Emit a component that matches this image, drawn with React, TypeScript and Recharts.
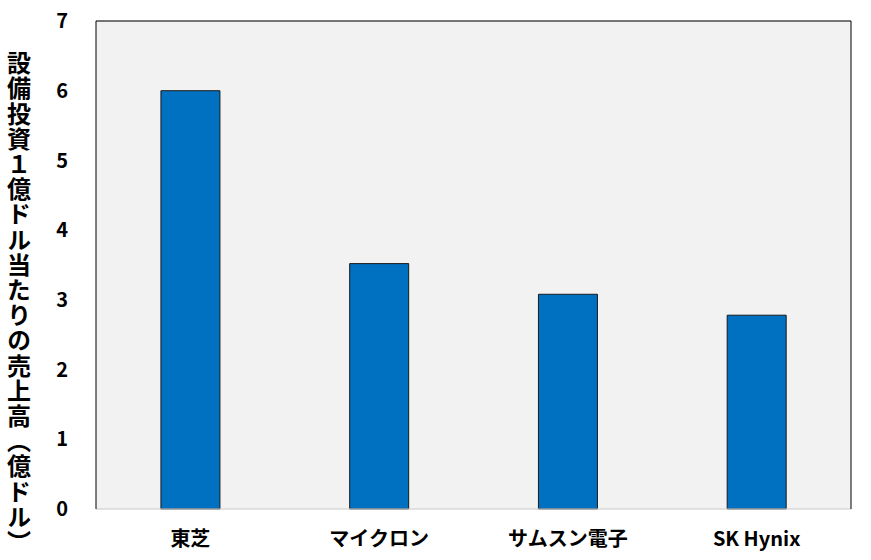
import React from 'react';
import { BarChart, Bar, XAxis, YAxis, CartesianGrid } from 'recharts';

const categories = ['東芝', 'マイクロン', 'サムスン電子', 'SK Hynix'];
const values = [6.0, 3.52, 3.08, 2.78];
const yTicks = [0, 1, 2, 3, 4, 5, 6, 7];
const yLabel = '設備投資１億ドル当たりの売上高（億ドル）';

const data = categories.map((name, i) => ({ name, value: values[i] }));

const FONT = '"Noto Sans CJK JP", "Noto Sans", sans-serif';

const YLabel = () => (
  <text
    x={19}
    y={303}
    textAnchor="middle"
    fontFamily={FONT}
    fontWeight={700}
    fontSize={24}
    fill="#000"
    letterSpacing={1.2}
    style={{ writingMode: 'vertical-rl' as any }}
  >
    {yLabel}
  </text>
);

export default function App() {
  return (
    <div style={{ position: 'absolute', left: 0, top: 0, width: 871, height: 560, background: '#fff' }}>
      <BarChart
        width={871}
        height={560}
        data={data}
        margin={{ top: 0, right: 0, left: 0, bottom: 0 }}
        barCategoryGap="34.4%"
      >
        <CartesianGrid vertical={false} stroke="#D9D9D9" fill="#F2F2F2" />
        <XAxis
          dataKey="name"
          xAxisId="bottom"
          height={51}
          tickLine={false}
          tickSize={0}
          tickMargin={23}
          axisLine={{ stroke: '#D9D9D9' }}
          tick={{ fontFamily: FONT, fontWeight: 700, fontSize: 20, fill: '#000' }}
          interval={0}
        />
        <XAxis
          dataKey="name"
          xAxisId="top"
          orientation="top"
          height={21}
          tick={false}
          tickLine={false}
          axisLine={{ stroke: '#000' }}
        />
        <YAxis
          yAxisId="left"
          width={96}
          domain={[0, 7]}
          ticks={yTicks}
          tickLine={false}
          tickMargin={22}
          axisLine={{ stroke: '#000' }}
          tick={{ fontFamily: FONT, fontWeight: 700, fontSize: 20, fill: '#000' }}
          label={{ content: <YLabel /> }}
        />
        <YAxis
          yAxisId="right"
          orientation="right"
          width={20}
          domain={[0, 7]}
          ticks={yTicks}
          tick={false}
          tickLine={false}
          axisLine={{ stroke: '#000' }}
        />
        <Bar
          dataKey="value"
          xAxisId="bottom"
          yAxisId="left"
          fill="#0070C0"
          stroke="#1a1a1a"
          strokeWidth={1}
          isAnimationActive={false}
        />
      </BarChart>
    </div>
  );
}
